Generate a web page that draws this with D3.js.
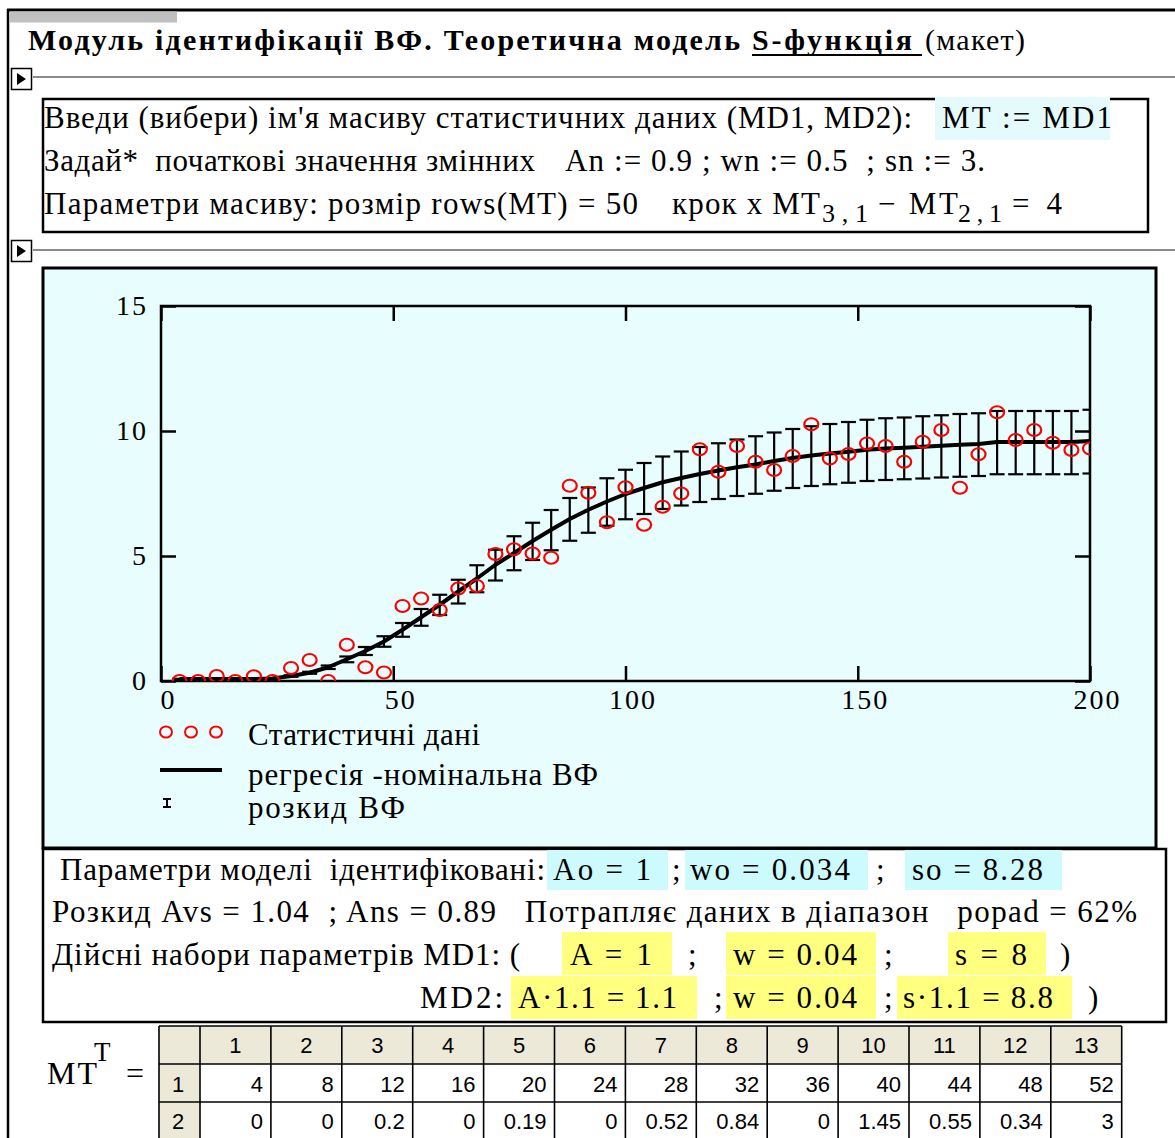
<!DOCTYPE html>
<html>
<head>
<meta charset="utf-8">
<script src="https://cdn.jsdelivr.net/npm/d3@7"></script>
<style>
  body { margin: 0; background: #fff; }
  svg { display: block; }
  text { white-space: pre; }
</style>
</head>
<body>
<svg id="sheet" width="1175" height="1138"></svg>
<script>
// ---- statistical data MD1: step x = 4, 50 rows ----
const xValues = [4, 8, 12, 16, 20, 24, 28, 32, 36, 40, 44, 48, 52, 56, 60, 64, 68, 72, 76, 80,
  84, 88, 92, 96, 100, 104, 108, 112, 116, 120, 124, 128, 132, 136, 140, 144, 148, 152, 156, 160,
  164, 168, 172, 176, 180, 184, 188, 192, 196, 200];
const yValues = [0, 0, 0.2, 0, 0.19, 0, 0.52, 0.84, 0, 1.45, 0.55, 0.34, 3, 3.3, 2.84, 3.7, 3.8, 5.08, 5.27, 5.1,
  4.93, 7.81, 7.53, 6.35, 7.75, 6.25, 6.97, 7.5, 9.27, 8.37, 9.4, 8.77, 8.44, 9.0, 10.27, 8.9, 9.08, 9.5, 9.4, 8.77,
  9.57, 10.04, 7.73, 9.07, 10.75, 9.64, 10.04, 9.53, 9.24, 9.3];
// nominal regression curve at the data points
const fitValues = [0.08, 0.08, 0.08, 0.08, 0.08, 0.1, 0.2, 0.33, 0.55, 0.87, 1.2, 1.58, 2.05, 2.55, 3.05, 3.58, 4.1, 4.65, 5.12, 5.6,
  6.05, 6.48, 6.85, 7.18, 7.48, 7.72, 7.95, 8.12, 8.28, 8.42, 8.55, 8.66, 8.8, 8.92, 9.02, 9.1, 9.17, 9.25, 9.3, 9.33,
  9.37, 9.41, 9.45, 9.48, 9.56, 9.56, 9.56, 9.56, 9.56, 9.6];
// spread of the curve (lower / upper bound)
const spreadLow = [0.07, 0.07, 0.07, 0.07, 0.07, 0.09, 0.17, 0.29, 0.48, 0.75, 1.04, 1.37, 1.77, 2.21, 2.64, 3.1, 3.55, 4.02, 4.43, 4.84,
  5.23, 5.61, 5.93, 6.21, 6.47, 6.68, 6.88, 7.02, 7.16, 7.28, 7.4, 7.49, 7.61, 7.72, 7.8, 7.87, 7.93, 8.0, 8.04, 8.07,
  8.1, 8.14, 8.17, 8.2, 8.27, 8.27, 8.27, 8.27, 8.27, 8.3];
const spreadHigh = [0.09, 0.09, 0.09, 0.09, 0.09, 0.11, 0.23, 0.37, 0.62, 0.98, 1.36, 1.79, 2.32, 2.88, 3.45, 4.05, 4.63, 5.25, 5.79, 6.33,
  6.84, 7.32, 7.74, 8.11, 8.45, 8.72, 8.98, 9.18, 9.36, 9.51, 9.66, 9.79, 9.94, 10.08, 10.19, 10.28, 10.36, 10.45, 10.51, 10.54,
  10.59, 10.63, 10.68, 10.71, 10.8, 10.8, 10.8, 10.8, 10.8, 10.85];
const xTicks = [0, 50, 100, 150, 200];
const yTicks = [0, 5, 10, 15];
const legendLabels = ["Статистичні дані", "регресія -номінальна ВФ", "розкид ВФ"];
const tableColumns = 13;

const svg = d3.select("#sheet");
const SERIF = "'Liberation Serif','Times New Roman',serif";
const SANS = "'Liberation Sans',Arial,sans-serif";
const BODY = 31;

function put(str, x, y, o = {}) {
  const t = svg.append("text").attr("x", x).attr("y", y).text(str)
    .attr("font-family", o.family || SERIF)
    .attr("font-size", o.size || BODY)
    .attr("fill", o.fill || "#000");
  if (o.bold) t.attr("font-weight", "bold");
  if (o.w) t.attr("textLength", o.w).attr("lengthAdjust", "spacing");
  if (o.anchor) t.attr("text-anchor", o.anchor);
  return t;
}
function box(x, y, w, h, fill, stroke, sw) {
  return svg.append("rect").attr("x", x).attr("y", y).attr("width", w).attr("height", h)
    .attr("fill", fill || "none").attr("stroke", stroke || "none").attr("stroke-width", sw || 0);
}
function hline(x1, x2, y, color, sw) {
  svg.append("line").attr("x1", x1).attr("x2", x2).attr("y1", y).attr("y2", y)
    .attr("stroke", color).attr("stroke-width", sw);
}
function marker(y) {
  box(11.5, y - 10.5, 20, 21, "#fff", "#000", 1.5);
  svg.append("path").attr("d", `M17,${y - 6} L26,${y} L17,${y + 6} Z`).attr("fill", "#000");
}

// ---- worksheet frame ----
hline(7, 1175, 10, "#000", 3);
svg.append("line").attr("x1", 8).attr("x2", 8).attr("y1", 9).attr("y2", 1138).attr("stroke", "#000").attr("stroke-width", 2.5);
box(10, 11.5, 167, 11, "#c0c0c0");

// ---- title ----
put("Модуль ідентифікації ВФ. Теоретична модель", 28, 50, { bold: true, size: 30, w: 712 });
put("S-функція", 752, 50, { bold: true, size: 30, w: 160 });
hline(752, 922, 55, "#000", 2);
put("(макет)", 925, 50, { size: 30, w: 100 });

hline(33, 1175, 77, "#8a8a8a", 2);
marker(79);

// ---- input block ----
box(43, 99, 1105, 133, "none", "#000", 2.5);
box(935, 97, 175, 43, "#e4fafc");
put("Введи (вибери) ім'я масиву статистичних даних (MD1, MD2):", 44, 128, { w: 868 });
put("MT := MD1", 942, 128, { w: 170 });
put("Задай*  початкові значення змінних", 44, 171, { w: 491 });
put("An := 0.9 ; wn := 0.5  ; sn := 3.", 565, 171, { w: 420 });
put("Параметри масиву: розмір rows(MT) = " + xValues.length, 44, 214, { w: 594 });
put("крок x MT", 672, 214, { w: 148 });
put("3 , 1", 822, 222, { size: 26, w: 46 });
put("− MT", 878, 214, { w: 80 });
put("2 , 1", 958, 222, { size: 26, w: 44 });
put("= " + (xValues[2] - xValues[1]), 1012, 214, { w: 50 });

hline(33, 1175, 250, "#8a8a8a", 2);
marker(251);

// ---- chart panel ----
box(43, 268, 1113, 580, "#e8fdfd", "#000", 3);

const x = d3.scaleLinear().domain([0, 200]).range([161, 1090]);
const y = d3.scaleLinear().domain([0, 15]).range([681, 306]);

svg.append("clipPath").attr("id", "plotClip").append("rect")
  .attr("x", x(0)).attr("y", y(15)).attr("width", x(200) - x(0)).attr("height", y(0) - y(15));

const axisStyle = g => {
  g.select(".domain").remove();
  g.selectAll(".tick line").attr("stroke", "#000").attr("stroke-width", 2.5);
  g.selectAll("text").attr("font-family", SERIF).attr("font-size", 28).attr("fill", "#000");
};
svg.append("g").attr("transform", `translate(0,${y(0)})`)
  .call(d3.axisBottom(x).tickValues(xTicks).tickSizeInner(-15).tickSizeOuter(0).tickPadding(8).tickFormat(d3.format("d")))
  .call(axisStyle).selectAll("text").attr("dx", 7).attr("letter-spacing", 2);
svg.append("g").attr("transform", `translate(0,${y(15)})`)
  .call(d3.axisTop(x).tickValues(xTicks).tickSizeInner(-15).tickSizeOuter(0).tickFormat(""))
  .call(axisStyle);
svg.append("g").attr("transform", `translate(${x(0)},0)`)
  .call(d3.axisLeft(y).tickValues(yTicks).tickSizeInner(-15).tickSizeOuter(0).tickPadding(13).tickFormat(d3.format("d")))
  .call(axisStyle).selectAll("text").attr("letter-spacing", 2);
svg.append("g").attr("transform", `translate(${x(200)},0)`)
  .call(d3.axisRight(y).tickValues(yTicks).tickSizeInner(-15).tickSizeOuter(0).tickFormat(""))
  .call(axisStyle);

box(x(0), y(15), x(200) - x(0), y(0) - y(15), "none", "#000", 2.5);

const plot = svg.append("g").attr("clip-path", "url(#plotClip)");
const rows = xValues.map((xv, i) => ({ x: xv, y: yValues[i], fit: fitValues[i], lo: spreadLow[i], hi: spreadHigh[i] }));

// spread bars
const bars = plot.append("g").attr("stroke", "#000").attr("stroke-width", 2.2);
rows.forEach(r => {
  const px = x(r.x);
  bars.append("line").attr("x1", px).attr("x2", px).attr("y1", y(r.lo)).attr("y2", y(r.hi));
  bars.append("line").attr("x1", px - 7.5).attr("x2", px + 7.5).attr("y1", y(r.lo)).attr("y2", y(r.lo));
  bars.append("line").attr("x1", px - 7.5).attr("x2", px + 7.5).attr("y1", y(r.hi)).attr("y2", y(r.hi));
});

// regression curve
plot.append("path").datum(rows)
  .attr("d", d3.line().x(d => x(d.x)).y(d => y(d.fit)))
  .attr("fill", "none").attr("stroke", "#000").attr("stroke-width", 4).attr("stroke-linejoin", "round");

// data points
plot.append("g").selectAll("ellipse").data(rows).join("ellipse")
  .attr("cx", d => x(d.x)).attr("cy", d => y(d.y)).attr("rx", 7).attr("ry", 6)
  .attr("fill", "none").attr("stroke", "#ff0000").attr("stroke-width", 2.2);

// legend
[166, 191, 216].forEach(cx => svg.append("ellipse").attr("cx", cx).attr("cy", 732).attr("rx", 6).attr("ry", 5.5)
  .attr("fill", "none").attr("stroke", "#ff0000").attr("stroke-width", 2));
put(legendLabels[0], 248, 745, { w: 232 });
svg.append("line").attr("x1", 160).attr("x2", 222).attr("y1", 770).attr("y2", 770).attr("stroke", "#000").attr("stroke-width", 4);
put(legendLabels[1], 248, 785, { w: 350 });
const lg = svg.append("g").attr("stroke", "#000").attr("stroke-width", 2);
lg.append("line").attr("x1", 167).attr("x2", 167).attr("y1", 799).attr("y2", 807);
lg.append("line").attr("x1", 163).attr("x2", 171).attr("y1", 799).attr("y2", 799);
lg.append("line").attr("x1", 163).attr("x2", 171).attr("y1", 807).attr("y2", 807);
put(legendLabels[2], 248, 818, { w: 157 });

// ---- identification results ----
box(43, 849, 1123, 173, "#fff", "#000", 2.5);
box(547, 850, 121, 40, "#ccfafd");
box(685, 850, 183, 40, "#ccfafd");
box(905, 850, 157, 40, "#ccfafd");
put("Параметри моделі  ідентифіковані:", 60, 880, { w: 485 });
put("Ao = 1", 553, 880, { w: 98 });
put(";", 672, 880);
put("wo = 0.034", 690, 880, { w: 160 });
put(";", 876, 880);
put("so = 8.28", 912, 880, { w: 131 });
put("Розкид Avs = 1.04  ; Ans = 0.89   Потрапляє даних в діапазон   popad = 62%", 52, 922, { w: 1085 });

box(562, 932, 110, 43, "#ffff80");
box(726, 932, 150, 43, "#ffff80");
box(948, 932, 98, 43, "#ffff80");
put("Дійсні набори параметрів MD1: (", 52, 965, { w: 468 });
put("A = 1", 570, 965, { w: 82 });
put(";", 688, 965);
put("w = 0.04", 733, 965, { w: 124 });
put(";", 884, 965);
put("s = 8", 955, 965, { w: 72 });
put(")", 1060, 965);

box(511, 976, 186, 43, "#ffff80");
box(726, 976, 150, 43, "#ffff80");
box(897, 976, 175, 43, "#ffff80");
put("MD2:", 420, 1008, { w: 83 });
put("A·1.1 = 1.1", 518, 1008, { w: 159 });
put(";", 714, 1008);
put("w = 0.04", 733, 1008, { w: 124 });
put(";", 884, 1008);
put("s·1.1 = 8.8", 903, 1008, { w: 150 });
put(")", 1088, 1008);

// ---- transposed data table ----
put("MT", 47, 1084, { size: 32, w: 50 });
put("T", 94, 1061, { size: 27 });
put("=", 126, 1084, { size: 32 });

const tx0 = 159, tColStart = 200, tColW = 70.9, tRowH = 38, ty0 = 1026;
const tEnd = tColStart + tableColumns * tColW;
box(tx0, ty0, tEnd - tx0, tRowH, "#ece9d8");
box(tx0, ty0 + tRowH, tColStart - tx0, tRowH * 2 + 4, "#ece9d8");
const grid = svg.append("g").attr("stroke", "#000").attr("stroke-width", 1.6);
for (let r = 0; r <= 2; r++) {
  grid.append("line").attr("x1", tx0).attr("x2", tEnd).attr("y1", ty0 + r * tRowH).attr("y2", ty0 + r * tRowH);
}
[tx0, ...d3.range(tableColumns + 1).map(c => tColStart + c * tColW)].forEach(cx =>
  grid.append("line").attr("x1", cx).attr("x2", cx).attr("y1", ty0).attr("y2", 1140));

d3.range(tableColumns).forEach(c => {
  const cx = tColStart + c * tColW;
  put(String(c + 1), cx + tColW / 2, ty0 + 27, { family: SANS, size: 22, anchor: "middle" });
  put(String(xValues[c]), cx + tColW - 8, ty0 + tRowH + 28, { family: SANS, size: 22, anchor: "end" });
  put(String(yValues[c]), cx + tColW - 8, ty0 + 2 * tRowH + 27, { family: SANS, size: 22, anchor: "end" });
});
put("1", 172, ty0 + tRowH + 28, { family: SANS, size: 22 });
put("2", 172, ty0 + 2 * tRowH + 27, { family: SANS, size: 22 });
</script>
</body>
</html>
